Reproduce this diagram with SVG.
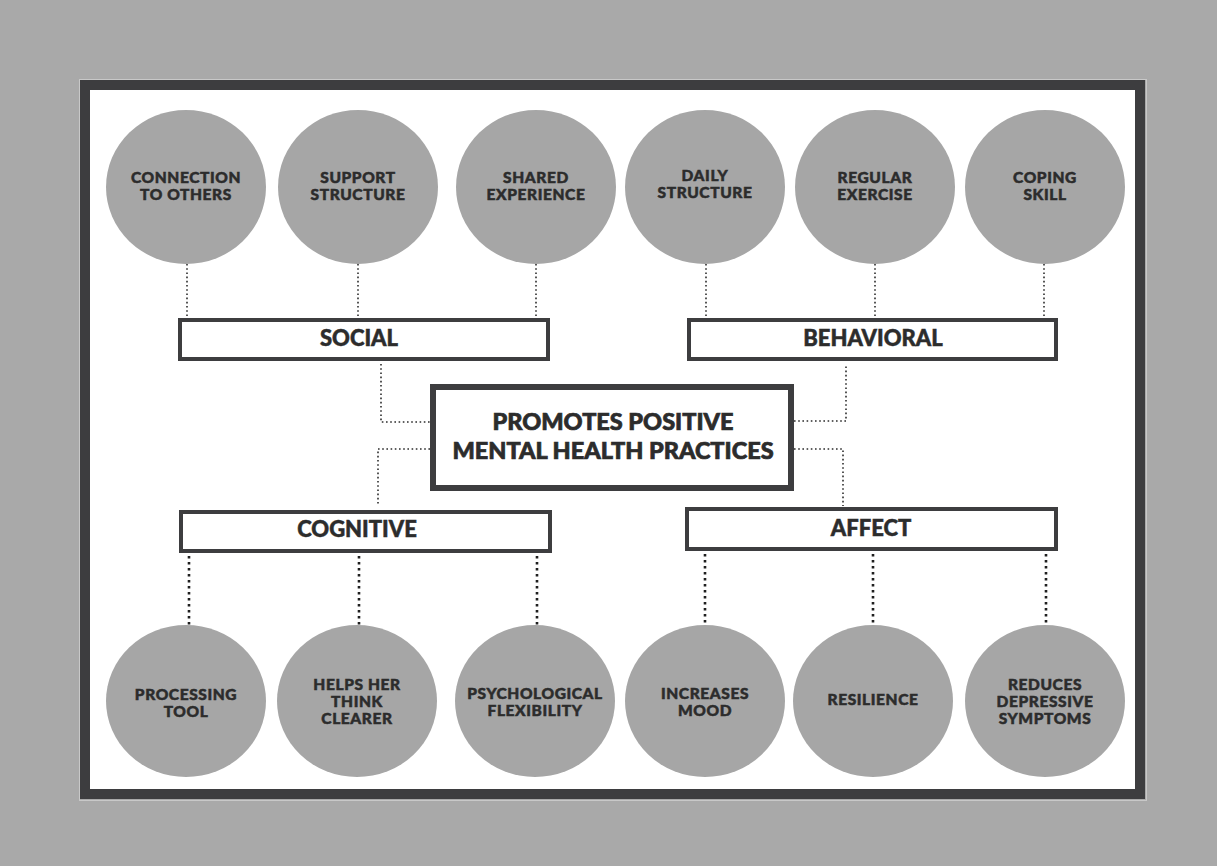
<svg xmlns="http://www.w3.org/2000/svg" width="1217" height="866" viewBox="0 0 1217 866">
<style>
.bg{fill:#a9a9a9}
.frame{fill:#ffffff;stroke:#3d3d3f;stroke-width:10}
.c{fill:#a6a6a6}
.t{font-family:Lato,"Liberation Sans",sans-serif;font-weight:900;fill:#2c2c2c;stroke:#2c2c2c;stroke-width:0.5;text-anchor:middle}
.ct{font-size:15.5px;letter-spacing:0.6px}
.bt{font-size:22px}
.mt{font-size:23.5px;stroke-width:0.7}
.box{fill:#ffffff;stroke:#3d3d3f;stroke-width:4}
.main{fill:#ffffff;stroke:#3d3d3f;stroke-width:6}
.d1{fill:none;stroke:#2c2c2c;stroke-width:1.6;stroke-dasharray:1.6 2.6}
.d2{fill:none;stroke:#1f1f1f;stroke-width:2.6;stroke-dasharray:2.6 3.4}
</style>
<rect class="bg" x="0" y="0" width="1217" height="866"/>
<rect x="79.5" y="79.5" width="1067" height="721" fill="none" stroke="#c8c8c8" stroke-width="1"/>
<rect class="frame" x="85" y="85" width="1055" height="709"/>

<g id="connectors">
<line class="d1" x1="187" y1="264" x2="187" y2="318"/>
<line class="d1" x1="358" y1="264" x2="358" y2="318"/>
<line class="d1" x1="536" y1="264" x2="536" y2="318"/>
<line class="d1" x1="706" y1="264" x2="706" y2="318"/>
<line class="d1" x1="875" y1="264" x2="875" y2="318"/>
<line class="d1" x1="1044" y1="264" x2="1044" y2="318"/>
<polyline class="d1" points="381,364 381,422 430,422"/>
<polyline class="d1" points="430,449 378,449 378,506"/>
<polyline class="d1" points="794,421 846,421 846,365"/>
<polyline class="d1" points="794,449 843,449 843,506"/>
<line class="d2" x1="189" y1="556" x2="189" y2="626"/>
<line class="d2" x1="359" y1="556" x2="359" y2="626"/>
<line class="d2" x1="537" y1="556" x2="537" y2="626"/>
<line class="d2" x1="705" y1="554" x2="705" y2="626"/>
<line class="d2" x1="873" y1="554" x2="873" y2="626"/>
<line class="d2" x1="1046" y1="554" x2="1046" y2="626"/>
</g>

<g id="n-connection"><ellipse class="c" cx="186" cy="187" rx="80" ry="77"/><text class="t ct"><tspan x="186" y="183">CONNECTION</tspan><tspan x="186" y="200">TO OTHERS</tspan></text></g>
<g id="n-support"><ellipse class="c" cx="358" cy="187" rx="80" ry="77"/><text class="t ct"><tspan x="358" y="183">SUPPORT</tspan><tspan x="358" y="200">STRUCTURE</tspan></text></g>
<g id="n-shared"><ellipse class="c" cx="536" cy="187" rx="80" ry="77"/><text class="t ct"><tspan x="536" y="183">SHARED</tspan><tspan x="536" y="200">EXPERIENCE</tspan></text></g>
<g id="n-daily"><ellipse class="c" cx="705" cy="187" rx="80" ry="77"/><text class="t ct"><tspan x="705" y="181">DAILY</tspan><tspan x="705" y="198">STRUCTURE</tspan></text></g>
<g id="n-exercise"><ellipse class="c" cx="875" cy="187" rx="80" ry="77"/><text class="t ct"><tspan x="875" y="183">REGULAR</tspan><tspan x="875" y="200">EXERCISE</tspan></text></g>
<g id="n-coping"><ellipse class="c" cx="1045" cy="187" rx="80" ry="77"/><text class="t ct"><tspan x="1045" y="183">COPING</tspan><tspan x="1045" y="200">SKILL</tspan></text></g>

<g id="n-social"><rect class="box" x="180" y="320" width="368" height="39"/><text class="t bt" x="359" y="346">SOCIAL</text></g>
<g id="n-behavioral"><rect class="box" x="689" y="320" width="367" height="39"/><text class="t bt" x="873" y="346">BEHAVIORAL</text></g>

<g id="n-main"><rect class="main" x="433" y="387" width="358" height="101"/><text class="t mt"><tspan x="613" y="430">PROMOTES POSITIVE</tspan><tspan x="613" y="459">MENTAL HEALTH PRACTICES</tspan></text></g>

<g id="n-cognitive"><rect class="box" x="181" y="512" width="369" height="39"/><text class="t bt" x="357" y="537">COGNITIVE</text></g>
<g id="n-affect"><rect class="box" x="687" y="509" width="369" height="40"/><text class="t bt" x="871" y="536">AFFECT</text></g>

<g id="n-processing"><ellipse class="c" cx="186" cy="701" rx="80" ry="76"/><text class="t ct"><tspan x="186" y="700">PROCESSING</tspan><tspan x="186" y="717">TOOL</tspan></text></g>
<g id="n-helps"><ellipse class="c" cx="357" cy="701" rx="80" ry="76"/><text class="t ct"><tspan x="357" y="690">HELPS HER</tspan><tspan x="357" y="707">THINK</tspan><tspan x="357" y="724">CLEARER</tspan></text></g>
<g id="n-psych"><ellipse class="c" cx="535" cy="701" rx="80" ry="76"/><text class="t ct"><tspan x="535" y="699">PSYCHOLOGICAL</tspan><tspan x="535" y="716">FLEXIBILITY</tspan></text></g>
<g id="n-mood"><ellipse class="c" cx="705" cy="701" rx="80" ry="76"/><text class="t ct"><tspan x="705" y="699">INCREASES</tspan><tspan x="705" y="716">MOOD</tspan></text></g>
<g id="n-resilience"><ellipse class="c" cx="873" cy="701" rx="80" ry="76"/><text class="t ct" x="873" y="705">RESILIENCE</text></g>
<g id="n-reduces"><ellipse class="c" cx="1045" cy="701" rx="80" ry="76"/><text class="t ct"><tspan x="1045" y="690">REDUCES</tspan><tspan x="1045" y="707">DEPRESSIVE</tspan><tspan x="1045" y="724">SYMPTOMS</tspan></text></g>
</svg>
